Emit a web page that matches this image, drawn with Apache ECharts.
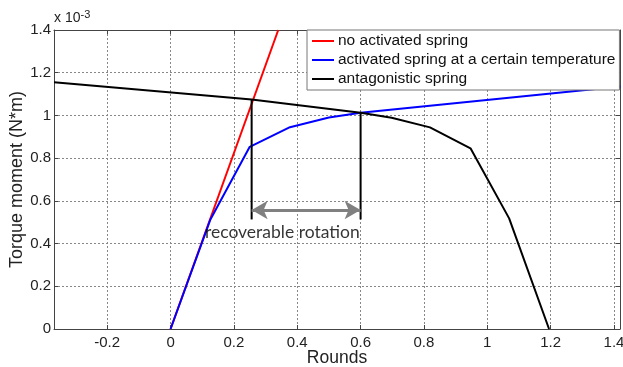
<!DOCTYPE html>
<html>
<head>
<meta charset="utf-8">
<script src="https://cdn.jsdelivr.net/npm/echarts@6/dist/echarts.min.js"></script>
<style>
  html, body { margin: 0; padding: 0; background: #fff; }
  #chart { width: 623px; height: 367px; }
</style>
</head>
<body>
<div id="chart"></div>
<script>
// values in units of 1e-3 N*m
const xTicks = [-0.2, 0, 0.2, 0.4, 0.6, 0.8, 1, 1.2, 1.4];
const yTicks = [0, 0.2, 0.4, 0.6, 0.8, 1, 1.2, 1.4];

const noActivated = [[0, 0], [0.34, 1.4]];
const activated = [[0, 0], [0.125, 0.51], [0.25, 0.853], [0.377, 0.945], [0.5, 0.99], [0.6, 1.013], [1.42, 1.135]];
const antagonistic = [[-0.368, 1.155], [0.256, 1.075], [0.6, 1.013], [0.698, 0.989], [0.819, 0.944], [0.947, 0.846], [1.069, 0.518], [1.195, 0]];

const leftMark = [[0.256, 0.513], [0.256, 1.075]];
const rightMark = [[0.6, 0.513], [0.6, 1.013]];
const arrowY = 0.557;
const noteText = 'recoverable rotation';
const notePos = [0.353, 0.452];

const chart = echarts.init(document.getElementById('chart'), null, { renderer: 'canvas' });

const tickFont = { fontFamily: 'Liberation Sans', fontSize: 15, color: '#222' };
const gridLine = { show: true, lineStyle: { color: '#888', type: [2, 2], width: 1 } };
const axisLine = { show: true, onZero: false, lineStyle: { color: '#444', width: 1 } };

const option = {
  animation: false,
  grid: { left: 54, right: 3, top: 30, bottom: 38, outerBoundsMode: 'none', containLabel: false },
  graphic: [{
    type: 'text',
    left: 54,
    top: 9,
    style: {
      text: 'x 10{sup|-3}',
      font: '14px "Liberation Sans"',
      fill: '#222',
      rich: { sup: { fontSize: 11, fontFamily: 'Liberation Sans', verticalAlign: 'top', padding: [0, 0, 8, 0] } }
    }
  }],
  legend: {
    orient: 'vertical',
    left: 307,
    top: 30,
    padding: [3, 4, 3, 5],
    itemGap: 3,
    itemWidth: 22,
    itemHeight: 2,
    icon: 'rect',
    backgroundColor: '#fff',
    borderColor: '#777',
    borderWidth: 1,
    borderRadius: 0,
    textStyle: { fontFamily: 'Liberation Sans', fontSize: 15.5, color: '#111', padding: [0, 0, 0, -1] },
    data: ['no activated spring', 'activated spring at a certain temperature', 'antagonistic spring']
  },
  xAxis: [{
    type: 'value',
    min: -0.368,
    max: 1.419,
    name: 'Rounds',
    nameLocation: 'middle',
    nameGap: 20,
    nameMoveOverlap: false,
    nameTextStyle: { fontFamily: 'Liberation Sans', fontSize: 17.5, color: '#222' },
    axisLine: axisLine,
    axisTick: { show: true, inside: true, length: 4, customValues: xTicks, lineStyle: { color: '#444' } },
    axisLabel: Object.assign({ customValues: xTicks, margin: 6, formatter: v => String(+v.toFixed(1)) }, tickFont),
    splitLine: gridLine
  }, {
    type: 'value',
    position: 'top',
    min: -0.368,
    max: 1.419,
    axisLine: axisLine,
    axisTick: { show: true, inside: true, length: 4, customValues: xTicks, lineStyle: { color: '#444' } },
    axisLabel: { show: false },
    splitLine: { show: false }
  }],
  yAxis: [{
    type: 'value',
    min: 0,
    max: 1.4,
    interval: 0.2,
    name: 'Torque moment (N*m)',
    nameLocation: 'middle',
    nameGap: 28,
    nameMoveOverlap: false,
    nameTextStyle: { fontFamily: 'Liberation Sans', fontSize: 18, color: '#222' },
    axisLine: axisLine,
    axisTick: { show: true, inside: true, length: 4, lineStyle: { color: '#444' } },
    axisLabel: Object.assign({ margin: 3, formatter: v => String(+v.toFixed(1)) }, tickFont),
    splitLine: gridLine
  }, {
    type: 'value',
    position: 'right',
    min: 0,
    max: 1.4,
    interval: 0.2,
    axisLine: axisLine,
    axisTick: { show: true, inside: true, length: 4, lineStyle: { color: '#444' } },
    axisLabel: { show: false },
    splitLine: { show: false }
  }],
  series: [
    {
      name: 'no activated spring', type: 'line', data: noActivated, symbol: 'none',
      lineStyle: { color: '#ff0000', width: 2 }, itemStyle: { color: '#ff0000' }, z: 2
    },
    {
      name: 'activated spring at a certain temperature', type: 'line', data: activated, symbol: 'none',
      lineStyle: { color: '#0000ff', width: 2 }, itemStyle: { color: '#0000ff' }, z: 3
    },
    {
      name: 'antagonistic spring', type: 'line', data: antagonistic, symbol: 'none',
      lineStyle: { color: '#000', width: 2 }, itemStyle: { color: '#000' }, z: 4
    },
    {
      type: 'line', data: leftMark, symbol: 'none', lineStyle: { color: '#000', width: 2 }, z: 4
    },
    {
      type: 'line', data: rightMark, symbol: 'none', lineStyle: { color: '#000', width: 2 }, z: 4,
      markLine: {
        silent: true,
        symbol: ['arrow', 'arrow'],
        symbolSize: [14, 16],
        label: { show: false },
        lineStyle: { color: '#808080', width: 3, type: 'solid' },
        data: [[{ coord: [leftMark[0][0], arrowY] }, { coord: [rightMark[0][0], arrowY] }]]
      }
    },
    {
      type: 'scatter', data: [notePos], symbolSize: 0, z: 5,
      label: {
        show: true, position: 'inside', formatter: noteText,
        fontFamily: 'Lato', fontSize: 17.5, color: '#000'
      }
    }
  ]
};

chart.setOption(option);
</script>
</body>
</html>
